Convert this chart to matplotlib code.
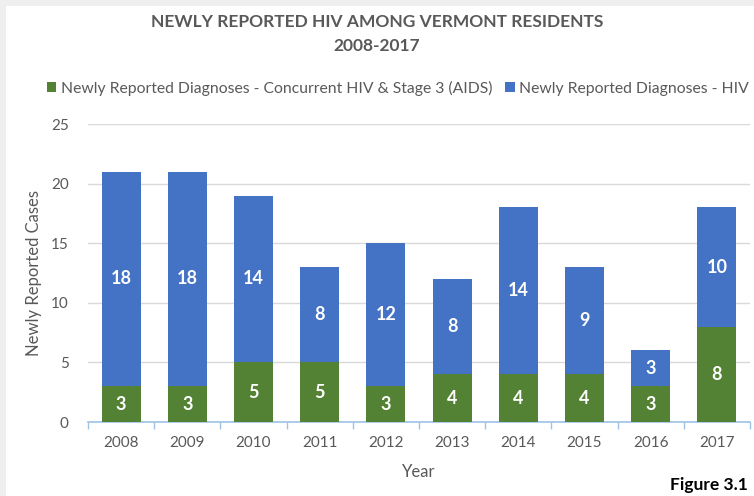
import matplotlib
import matplotlib.pyplot as plt
import numpy as np
from matplotlib.patches import Rectangle

matplotlib.use("Agg", force=True)

plt.rcParams["font.family"] = ["Lato", "DejaVu Sans"]

years = ["2008", "2009", "2010", "2011", "2012", "2013", "2014", "2015", "2016", "2017"]
aids = [3, 3, 5, 5, 3, 4, 4, 4, 3, 8]
hiv = [18, 18, 14, 8, 12, 8, 14, 9, 3, 10]

GREEN = "#548235"
BLUE = "#4472C4"
TEXT = "#595959"

fig = plt.figure(figsize=(7.54, 4.96), dpi=100)
fig.patch.set_facecolor("#EFEFEF")
fig.add_artist(Rectangle((6 / 754, 0), 1, 1 - 6 / 496, transform=fig.transFigure,
                         facecolor="white", edgecolor="none", zorder=0))

ax = fig.add_axes([88 / 754, 1 - 422 / 496, (750 - 88) / 754, (422 - 124) / 496])
ax.set_facecolor("none")

x = np.arange(len(years))
w = 0.59
b1 = ax.bar(x, aids, width=w, color=GREEN, zorder=3)
b2 = ax.bar(x, hiv, width=w, bottom=aids, color=BLUE, zorder=3)

# value labels inside each segment
for i in range(len(years)):
    ax.text(x[i], aids[i] / 2, str(aids[i]), ha="center", va="center",
            color="white", fontsize=13, fontweight="bold", zorder=4)
    ax.text(x[i], aids[i] + hiv[i] / 2, str(hiv[i]), ha="center", va="center",
            color="white", fontsize=13, fontweight="bold", zorder=4)

ax.set_xlim(-0.5, len(years) - 0.5)
ax.set_ylim(0, 25)
ax.set_yticks(range(0, 26, 5))
ax.yaxis.grid(True, color="#D9D9D9", linewidth=1, zorder=0)
ax.set_axisbelow(True)

ax.set_xticks(x)
ax.set_xticklabels(years)
ax.set_xticks(np.arange(-0.5, len(years)), minor=True)
ax.tick_params(axis="x", which="major", length=0, pad=10, labelsize=11, labelcolor=TEXT)
ax.tick_params(axis="x", which="minor", length=5, color="#9DC3E6", width=1)
ax.tick_params(axis="y", length=0, pad=14, labelsize=11, labelcolor=TEXT)

for s in ["top", "right", "left"]:
    ax.spines[s].set_visible(False)
ax.spines["bottom"].set_color("#9DC3E6")
ax.spines["bottom"].set_linewidth(1.2)

ax.set_ylabel("Newly Reported Cases", fontsize=12, color=TEXT, labelpad=6)
ax.set_xlabel("Year", fontsize=12, color=TEXT, labelpad=10)

fig.text(0.5, 1 - 22 / 496, "NEWLY REPORTED HIV AMONG VERMONT RESIDENTS",
         ha="center", va="center", fontsize=12.5, fontweight="bold", color=TEXT)
fig.text(0.5, 1 - 46 / 496, "2008-2017",
         ha="center", va="center", fontsize=12.5, fontweight="bold", color=TEXT)

fig.legend([b1, b2],
           ["Newly Reported Diagnoses - Concurrent HIV & Stage 3 (AIDS)",
            "Newly Reported Diagnoses - HIV"],
           loc="center", bbox_to_anchor=(398 / 754, 1 - 88 / 496), ncol=2, frameon=False,
           fontsize=11.3, labelcolor=TEXT, handlelength=0.6, handleheight=0.6,
           handletextpad=0.3, columnspacing=0.8)

fig.text(748 / 754, 1 - 485 / 496, "Figure 3.1", ha="right", va="center",
         fontsize=12.5, fontweight="bold", color="black")

fig.savefig("out.png", dpi=100)
